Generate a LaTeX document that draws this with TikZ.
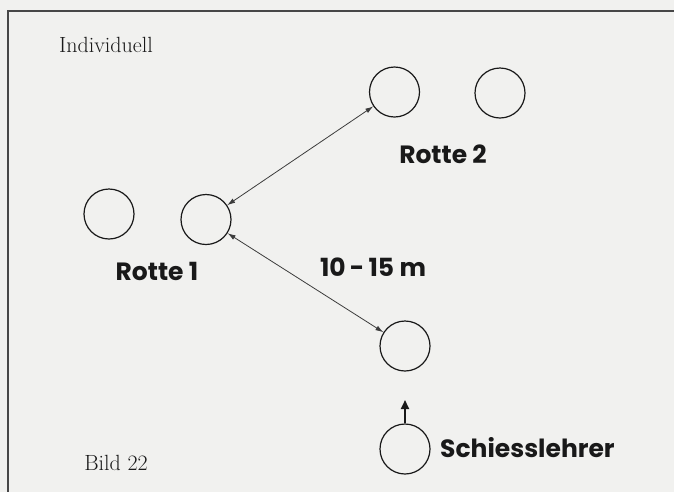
\documentclass[tikz,border=0pt]{standalone}
\usepackage{fontspec}
\newfontfamily\labelfont{Poppins}
\usetikzlibrary{arrows.meta}
\definecolor{paper}{RGB}{241,241,239}
\definecolor{ink}{RGB}{25,25,25}
\begin{document}
\begin{tikzpicture}[x=1pt,y=-1pt,
  person/.style={circle,draw=ink,line width=1.2pt,minimum size=50pt,inner sep=0pt},
  lbl/.style={font=\labelfont\bfseries\fontsize{25}{28}\selectfont,text=ink,inner sep=0pt},
  serif/.style={font=\fontsize{22}{24}\selectfont,text=ink,inner sep=0pt},
  dist/.style={{Latex[length=8pt,width=5pt]}-{Latex[length=8pt,width=5pt]},draw=ink!85,line width=0.8pt},
  move/.style={-{Triangle[length=9pt,width=8pt]},draw=ink,line width=2pt},
  frame/.style={draw=ink!80,line width=1.5pt}]
\useasboundingbox (0,0) rectangle (674,491);
\fill[paper] (-5,-5) rectangle (680,497);
\coordinate (fl) at (8,500);
\coordinate (fc) at (8,11);
\coordinate (fr) at (680,11);
\draw[frame] (fl) -- (fc) -- (fr);
\node[serif] (title) at (106,45) {Individuell};
\node[serif] (bild) at (116,463) {Bild \oldstylenums{22}};
\node[person] (r2a) at (394.5,92) {};
\node[person] (r2b) at (500,93) {};
\node[person] (r1a) at (109,214) {};
\node[person] (r1b) at (206,219.5) {};
\node[person] (mid) at (405,346) {};
\node[person] (sl) at (405,449) {};
\node[lbl] (t2) at (443,154) {Rotte 2};
\node[lbl] (t1) at (157,271) {Rotte 1};
\node[lbl] (dst) at (373,267) {10\,-\,15 m};
\node[lbl,anchor=west] (tsl) at (440,448) {Schiesslehrer};
\coordinate (tip) at (405,400);
\draw[dist] (r1b) -- (r2a);
\draw[dist] (r1b) -- (mid);
\draw[move] (sl.north) -- (tip);
\end{tikzpicture}
\end{document}
